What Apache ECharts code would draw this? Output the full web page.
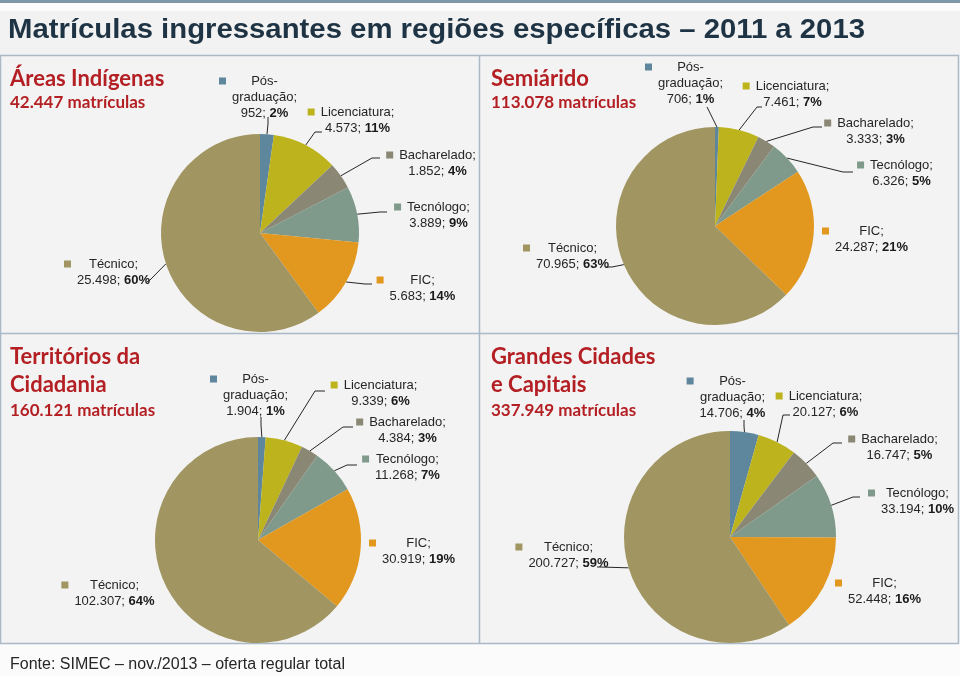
<!DOCTYPE html>
<html><head><meta charset="utf-8">
<script src="https://cdn.jsdelivr.net/npm/echarts@6/dist/echarts.min.js"></script>
<style>html,body{margin:0;padding:0;background:#fbfbfb}#c{width:960px;height:676px}</style>
</head><body><div id="c"></div>
<script>
// ---- data ----
const categories = ['Pós-graduação', 'Licenciatura', 'Bacharelado', 'Tecnólogo', 'FIC', 'Técnico'];
const areasIndigenas = [952, 4573, 1852, 3889, 5683, 25498];
const semiarido = [706, 7461, 3333, 6326, 24287, 70965];
const territorios = [1904, 9339, 4384, 11268, 30919, 102307];
const grandesCidades = [14706, 20127, 16747, 33194, 52448, 200727];
const regionNames = [['Áreas Indígenas'], ['Semiárido'], ['Territórios da', 'Cidadania'], ['Grandes Cidades', 'e Capitais']];
const mainTitle = 'Matrículas ingressantes em regiões específicas – 2011 a 2013';
const footer = 'Fonte: SIMEC – nov./2013 – oferta regular total';

// ---- styles / layout ----
const colors = ['#5e869c', '#bdb31c', '#8b8775', '#7f9a8a', '#e2981f', '#a19561'];
const panels = [
  { values: areasIndigenas, center: [260, 233], r: 99, title: [10, 67], big: 24,
    labels: [[258, 97], [351, 120], [431, 163], [432, 215], [416, 288], [107, 272]],
    leaders: [[[268, 124], [268, 117]], [[315, 132], [322, 132]], [[372, 158], [380, 158]],
              [[380, 212], [387, 212]], [[365, 284], [372, 284]], [[150, 280], [147, 282]]] },
  { values: semiarido, center: [715, 226], r: 99, title: [491, 67], big: 24,
    labels: [[684, 83], [786, 94], [869, 131], [895, 173], [865, 239], [566, 256]],
    leaders: [[[709, 111], [707, 107]], [[757, 107], [762, 107]], [[813, 127], [822, 127]],
              [[843, 172], [853, 172]], null, [[612, 267], [606, 267]]] },
  { values: territorios, center: [258, 540], r: 103, title: [10, 343], big: 28,
    labels: [[249, 395], [374, 393], [401, 430], [401, 467], [412, 551], [108, 593]],
    leaders: [[[261, 425], [261, 417]], [[315, 391], [325, 391]], [[343, 427], [353, 427]],
              [[347, 465], [357, 465]], null, null] },
  { values: grandesCidades, center: [730, 537], r: 106, title: [491, 343], big: 28,
    labels: [[726, 397], [819, 404], [893, 447], [911, 501], [878, 591], [562, 555]],
    leaders: [[[744, 426], [744, 420]], [[783, 415], [790, 415]], [[833, 443], [842, 443]],
              [[853, 497], [860, 497]], null, [[600, 567], [597, 567]]] }
];

function fmtNum(v) { return String(v).replace(/\B(?=(\d{3})+(?!\d))/g, '.'); }

const rich = {
  g: { width: 6, height: 7, align: 'left' },
  sp: { width: 13, height: 7, align: 'left' },
  t: { fontFamily: 'Liberation Sans', fontSize: 13, color: '#262626', lineHeight: 16, align: 'center' },
  b: { fontFamily: 'Liberation Sans', fontSize: 13, fontWeight: 'bold', color: '#1a1a1a', lineHeight: 16, align: 'center' }
};
colors.forEach((c, i) => { rich['sq' + i] = { width: 7, height: 7, backgroundColor: c, align: 'left' }; });

function labelFormatter(p) {
  const name = p.name;
  const i = name.indexOf('-');
  const nameLines = i >= 0 ? [name.slice(0, i + 1), name.slice(i + 1) + ';'] : [name + ';'];
  const lines = ['{sq' + p.dataIndex + '|}{g|}{t|' + nameLines[0] + '}'];
  for (let k = 1; k < nameLines.length; k++) lines.push('{sp|}{t|' + nameLines[k] + '}');
  lines.push('{sp|}{t|' + fmtNum(p.value) + '; }{b|' + p.percent + '%}');
  return lines.join('\n');
}

// point on the slice edge at its middle angle (pie starts at 12 o'clock, clockwise)
function edgePoint(pn, idx) {
  const total = pn.values.reduce((a, b) => a + b, 0);
  let before = 0;
  for (let k = 0; k < idx; k++) before += pn.values[k];
  const mid = (before + pn.values[idx] / 2) / total * Math.PI * 2;
  return [pn.center[0] + pn.r * Math.sin(mid), pn.center[1] - pn.r * Math.cos(mid)];
}

const series = panels.map((pn, si) => ({
  type: 'pie',
  center: pn.center,
  radius: pn.r,
  startAngle: 90,
  clockwise: true,
  avoidLabelOverlap: false,
  percentPrecision: 0,
  silent: true,
  animation: false,
  itemStyle: { borderWidth: 0 },
  label: { show: true, position: 'outside', formatter: labelFormatter, rich: rich, lineHeight: 16 },
  labelLine: { show: true, length: 8, length2: 8, smooth: false, lineStyle: { color: '#262626', width: 1 } },
  labelLayout: function (params) {
    const pos = pn.labels[params.dataIndex];
    const out = { x: pos[0], y: pos[1], align: 'center', verticalAlign: 'middle' };
    const ld = pn.leaders[params.dataIndex];
    if (ld) out.labelLinePoints = [edgePoint(pn, params.dataIndex), ld[0], ld[1]];
    return out;
  },
  data: categories.map((c, i) => ({
    name: c, value: pn.values[i],
    itemStyle: { color: colors[i] },
    labelLine: { show: !!pn.leaders[i] }
  }))
}));

const titles = [
  { text: footer, left: 10, top: 657, padding: 0,
    textStyle: { fontFamily: 'Liberation Sans', fontWeight: 'normal', fontSize: 16, color: '#262626' } }
];
panels.forEach((pn, si) => {
  const total = pn.values.reduce((a, b) => a + b, 0);
  const lines = regionNames[si].map(t => '{h|' + t + '}');
  lines.push('{s|' + fmtNum(total) + ' matrículas}');
  titles.push({
    text: lines.join('\n'), left: pn.title[0], top: pn.title[1], padding: 0,
    textStyle: {
      rich: {
        h: { fontFamily: 'Lato', fontWeight: 'bold', fontSize: 22, color: '#b41f24', lineHeight: pn.big },
        s: { fontFamily: 'Lato', fontWeight: 'bold', fontSize: 17, color: '#b41f24', lineHeight: 24 }
      }
    }
  });
});

// condensed main title: Liberation Sans Bold squeezed horizontally to the reference width
const titleFont = 'bold 27px "Liberation Sans"';
const mctx = document.createElement('canvas').getContext('2d');
mctx.font = titleFont;
const titleScale = 857 / mctx.measureText(mainTitle).width;

const border = '#a9b9c6';
const graphic = [
  { type: 'rect', z: -10, shape: { x: 0, y: 0, width: 960, height: 3 }, style: { fill: '#7d97a8' } },
  { type: 'rect', z: -10, shape: { x: 0, y: 11, width: 960, height: 45 }, style: { fill: '#f2f2f2' } },
  { type: 'rect', z: -9, shape: { x: 0.5, y: 55.5, width: 958, height: 588 }, style: { fill: '#f3f3f3', stroke: border, lineWidth: 1.5 } },
  { type: 'line', z: -8, shape: { x1: 479.5, y1: 55.5, x2: 479.5, y2: 643.5 }, style: { stroke: border, lineWidth: 1.5 } },
  { type: 'line', z: -8, shape: { x1: 0.5, y1: 333.5, x2: 958.5, y2: 333.5 }, style: { stroke: border, lineWidth: 1.5 } },
  { type: 'text', z: 5, x: 8, y: 30.5, scaleX: titleScale, scaleY: 1,
    style: { text: mainTitle, font: titleFont, fill: '#1e3444', align: 'left', verticalAlign: 'middle' } }
];

const chart = echarts.init(document.getElementById('c'), null, { renderer: 'canvas' });
chart.setOption({ animation: false, title: titles, graphic: graphic, series: series });
</script></body></html>
